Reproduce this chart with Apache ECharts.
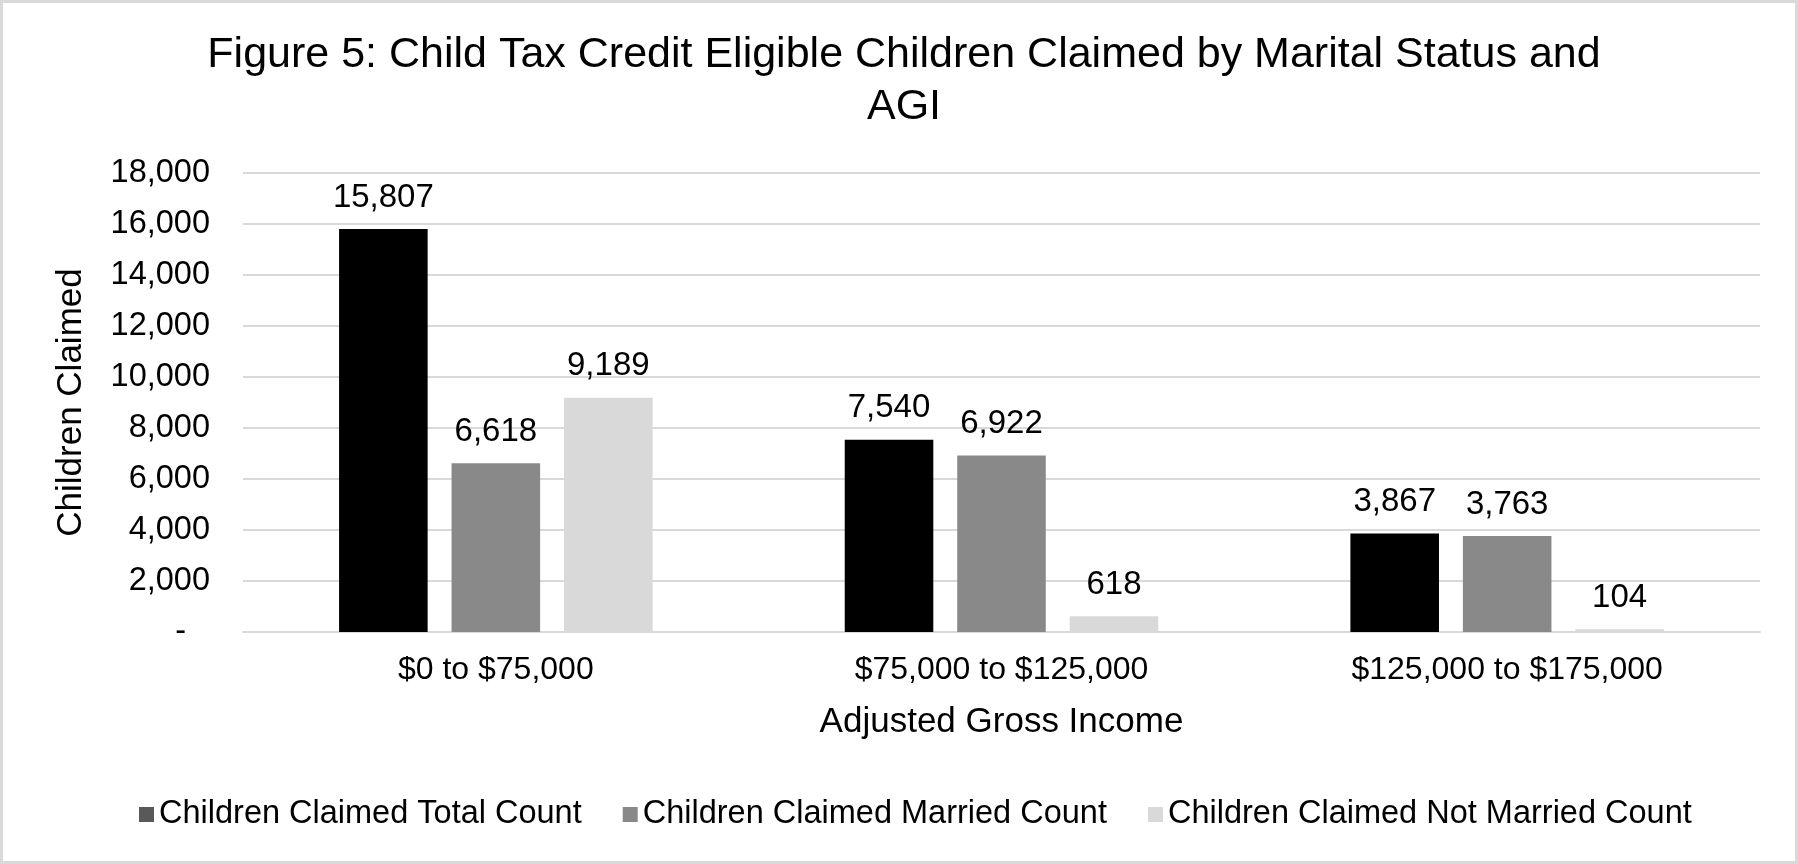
<!DOCTYPE html>
<html><head><meta charset="utf-8">
<script src="https://cdn.jsdelivr.net/npm/echarts@6/dist/echarts.min.js"></script>
<style>html,body{margin:0;padding:0;background:#fff}#c{width:1798px;height:864px}</style>
</head><body><div id="c"></div>
<script>
const categories = ['$0 to $75,000', '$75,000 to $125,000', '$125,000 to $175,000'];
const seriesNames = ['Children Claimed Total Count', 'Children Claimed Married Count', 'Children Claimed Not Married Count'];
const totalCount = [15807, 7540, 3867];
const marriedCount = [6618, 6922, 3763];
const notMarriedCount = [9189, 618, 104];
const yTicks = [0, 2000, 4000, 6000, 8000, 10000, 12000, 14000, 16000, 18000];
const colors = ['#000000', '#898989', '#d9d9d9'];
const legendColors = ['#595959', '#898989', '#d9d9d9'];

const FONT = '"Liberation Sans", Arial, sans-serif';
const fmt = v => v.toLocaleString('en-US');
const chart = echarts.init(document.getElementById('c'), null, {renderer: 'canvas'});
function mkSeries(name, data, color) {
  return {
    name, type: 'bar', data,
    barGap: '27%', barCategoryGap: '38%',
    itemStyle: {color},
    label: {show: true, position: 'top', distance: 15, color: '#000', fontFamily: FONT, fontSize: 33,
      formatter: p => fmt(p.value)}
  };
}
chart.setOption({
  animation: false,
  textStyle: {fontFamily: FONT},
  title: {
    text: 'Figure 5: Child Tax Credit Eligible Children Claimed by Marital Status and\nAGI',
    left: 899, top: 24, textAlign: 'center',
    textStyle: {fontFamily: FONT, fontSize: 43, fontWeight: 'normal', color: '#000', lineHeight: 52}
  },
  graphic: [{type: 'rect', shape: {x: 1.5, y: 1.5, width: 1795, height: 861}, style: {fill: 'none', stroke: '#d9d9d9', lineWidth: 3}, silent: true}],
  legend: {
    data: seriesNames.map((n, i) => ({name: n, itemStyle: {color: legendColors[i]}})),
    left: 134, top: 793, itemWidth: 15, itemHeight: 15, itemGap: 41,
    icon: 'rect',
    textStyle: {fontFamily: FONT, fontSize: 32.5, color: '#000'}
  },
  grid: {left: 243, right: 38, top: 173, bottom: 232, containLabel: false},
  xAxis: {
    type: 'category', data: categories,
    name: 'Adjusted Gross Income', nameLocation: 'middle', nameGap: 73,
    nameTextStyle: {fontFamily: FONT, fontSize: 35, color: '#000'},
    axisLine: {show: true, lineStyle: {color: '#d9d9d9', width: 2}},
    axisTick: {show: false},
    axisLabel: {margin: 22, fontFamily: FONT, fontSize: 32, color: '#000'}
  },
  yAxis: {
    type: 'value', min: yTicks[0], max: yTicks[yTicks.length - 1], interval: yTicks[1] - yTicks[0],
    name: 'Children Claimed', nameLocation: 'middle', nameGap: 154, nameRotate: 90,
    nameTextStyle: {fontFamily: FONT, fontSize: 35, color: '#000'},
    axisLine: {show: false}, axisTick: {show: false},
    splitLine: {lineStyle: {color: '#d9d9d9', width: 2}},
    axisLabel: {margin: 33, fontFamily: FONT, fontSize: 32.5, color: '#000',
      formatter: v => v === 0 ? '{d|-}' : fmt(v),
      rich: {d: {fontFamily: FONT, fontSize: 32.5, color: '#000', padding: [0, 24, 0, 0]}}}
  },
  series: [
    mkSeries(seriesNames[0], totalCount, colors[0]),
    mkSeries(seriesNames[1], marriedCount, colors[1]),
    mkSeries(seriesNames[2], notMarriedCount, colors[2])
  ]
});
</script></body></html>
